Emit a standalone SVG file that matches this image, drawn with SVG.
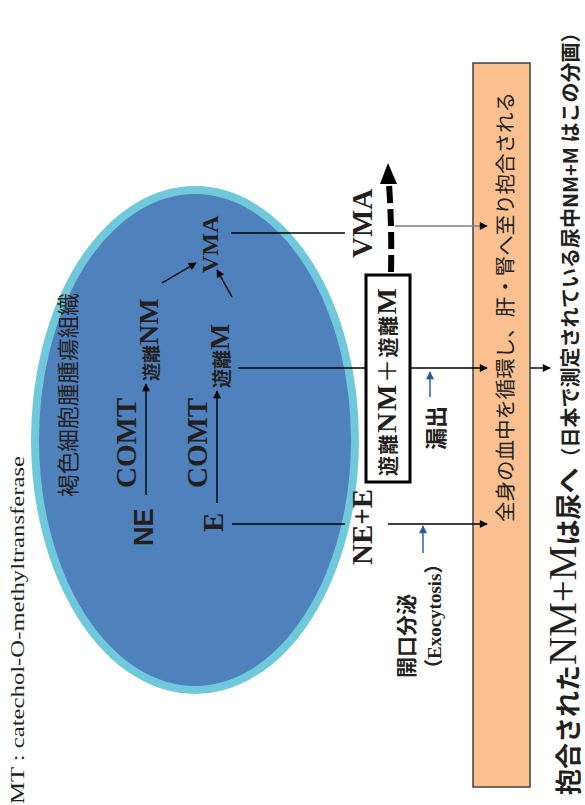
<svg xmlns="http://www.w3.org/2000/svg" width="585" height="805" viewBox="0 0 585 805">
<style>
.ser{font-family:"Liberation Serif","Times New Roman",serif;font-weight:bold;fill:#231f20}
.sans{font-family:"Liberation Sans",Arial,sans-serif;font-weight:bold;fill:#231f20}
.cjk{font-family:"Noto Sans CJK JP","Noto Sans CJK SC",sans-serif;fill:#231f20}
.b{font-weight:bold}
.ln{stroke:#000;stroke-width:1.4;fill:none}
.bl{stroke:#2b579a;stroke-width:1.4;fill:none}
</style>
<defs>
<marker id="ah" viewBox="0 0 10 10" refX="9" refY="5" markerWidth="9" markerHeight="8" markerUnits="userSpaceOnUse" orient="auto"><path d="M0,0 L10,5 L0,10 z" fill="#000"/></marker>
<marker id="ahb" viewBox="0 0 10 10" refX="9" refY="5" markerWidth="9" markerHeight="8" markerUnits="userSpaceOnUse" orient="auto"><path d="M0,0 L10,5 L0,10 z" fill="#2b579a"/></marker>
</defs>

<g id="tumor">
<ellipse cx="195" cy="440" rx="160" ry="250" fill="#4f81bd" stroke="#6fc9da" stroke-width="8"/>
<text class="cjk" font-size="22" textLength="204" lengthAdjust="spacingAndGlyphs" transform="translate(75.5,497) rotate(-90)">褐色細胞腫腫瘍組織</text>
</g>

<g id="circulation">
<rect x="473" y="63" width="57" height="724" fill="#fac090" stroke="#404040" stroke-width="1.5"/>
<text class="cjk" font-size="20" fill="#333" textLength="430" lengthAdjust="spacingAndGlyphs" transform="translate(512.5,522) rotate(-90)">全身の血中を循環し、肝・腎へ至り抱合される</text>
</g>

<g id="free-box">
<rect x="366" y="275" width="44" height="207" fill="#fff" stroke="#000" stroke-width="3"/>
<text transform="translate(396,476) rotate(-90)" textLength="188" lengthAdjust="spacing"><tspan class="cjk b" font-size="20">遊離</tspan><tspan class="ser" font-size="28">NM</tspan><tspan class="cjk" font-size="24">＋</tspan><tspan class="cjk b" font-size="20">遊離</tspan><tspan class="ser" font-size="28">M</tspan></text>
</g>

<g id="ne"><text class="sans" font-size="27" transform="translate(152.5,546) rotate(-90)">NE</text></g>
<g id="comt1"><text class="ser" font-size="29" transform="translate(136,488) rotate(-90)">COMT</text></g>
<g id="free-nm"><text transform="translate(157.5,381) rotate(-90)"><tspan class="cjk b" font-size="18">遊離</tspan><tspan class="ser" font-size="28">NM</tspan></text></g>
<g id="e"><text class="ser" font-size="29" transform="translate(222.5,532) rotate(-90)">E</text></g>
<g id="comt2"><text class="ser" font-size="29" transform="translate(207,488) rotate(-90)">COMT</text></g>
<g id="free-m"><text transform="translate(229,388) rotate(-90)"><tspan class="cjk b" font-size="19">遊離</tspan><tspan class="ser" font-size="28">M</tspan></text></g>
<g id="vma-in"><text class="ser" font-size="24" transform="translate(218,273) rotate(-90)">VMA</text></g>
<g id="vma-out"><text class="ser" font-size="29" transform="translate(372,258) rotate(-90)">VMA</text></g>
<g id="ne-e"><text class="ser" font-size="29" transform="translate(372,565) rotate(-90)">NE+E</text></g>
<g id="leak"><text class="cjk b" font-size="22" transform="translate(444,450) rotate(-90)">漏出</text></g>
<g id="exocytosis">
<text class="cjk b" font-size="21" transform="translate(414,678) rotate(-90)">開口分泌</text>
<text transform="translate(441,678) rotate(-90)"><tspan class="cjk b" font-size="19">（</tspan><tspan class="ser" font-size="19">Exocytosis</tspan><tspan class="cjk b" font-size="19">）</tspan></text>
</g>
<g id="urine"><text transform="translate(578,795) rotate(-90)"><tspan class="cjk b" font-size="26">抱合された</tspan><tspan dy="-2" font-family="Liberation Serif, serif" font-size="39" fill="#231f20">NM+M</tspan><tspan dy="2" class="cjk b" font-size="26">は尿へ</tspan><tspan class="cjk b" font-size="20">（日本で測定されている尿中NM+M はこの分画）</tspan></text></g>
<g id="legend"><text font-family="Liberation Serif, serif" font-size="18" fill="#231f20" textLength="348" lengthAdjust="spacingAndGlyphs" transform="translate(23.5,804) rotate(-90)">MT : catechol-O-methyltransferase</text></g>

<g id="connectors">
<line class="ln" x1="146" y1="495" x2="146" y2="384" marker-end="url(#ah)"/>
<line class="ln" x1="217" y1="503" x2="217" y2="391" marker-end="url(#ah)"/>
<line class="ln" x1="162" y1="283" x2="196" y2="263" marker-end="url(#ah)"/>
<line class="ln" x1="232" y1="297" x2="217" y2="270" marker-end="url(#ah)"/>
<line class="ln" x1="231" y1="233" x2="345" y2="233"/>
<line x1="395" y1="226" x2="487" y2="226" stroke="#7f7f7f" stroke-width="1.6" marker-end="url(#ah)"/>
<line class="ln" x1="238" y1="368" x2="366" y2="368"/>
<line class="ln" x1="410" y1="368" x2="487" y2="368" marker-end="url(#ah)"/>
<line class="ln" x1="232" y1="524" x2="345" y2="524"/>
<line class="ln" x1="388" y1="524" x2="487" y2="524" marker-end="url(#ah)"/>
<line class="ln" x1="530" y1="368" x2="550" y2="368" marker-end="url(#ah)"/>
<line class="bl" x1="430" y1="397" x2="430" y2="372" marker-end="url(#ahb)"/>
<line class="bl" x1="423" y1="553" x2="423" y2="526" marker-end="url(#ahb)"/>
<path d="M391,272 Q392,228 389,184" stroke="#000" stroke-width="6" fill="none" stroke-dasharray="17 6"/>
<path d="M388,163 L397,184 L380,184 z" fill="#000"/>
</g>
</svg>
